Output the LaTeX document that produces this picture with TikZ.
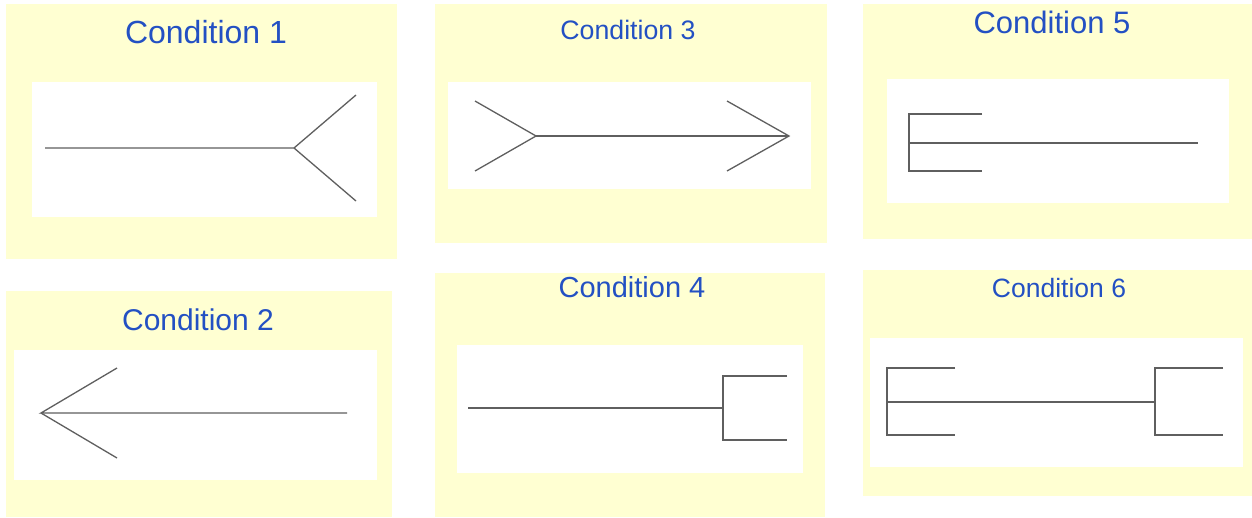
\documentclass[tikz,border=0pt]{standalone}
\usepackage{fontspec}
\setmainfont{Liberation Sans}
\definecolor{panelyellow}{RGB}{255,255,210}
\definecolor{titleblue}{RGB}{35,80,195}
\definecolor{linegray}{RGB}{95,95,95}
\tikzset{
  panel/.style={fill=panelyellow, draw=none},
  inner/.style={fill=white, draw=none},
  title/.style={text=titleblue, inner sep=0pt, anchor=center},
  glyph/.style={draw=linegray, line width=1.3pt, line cap=butt, line join=miter}
}
\newcommand{\tsize}[1]{\fontsize{#1}{#1}\selectfont}
\begin{document}
\begin{tikzpicture}[x=1pt,y=-1pt]
\useasboundingbox[fill=white] (0,0) rectangle (1252,517);
% ---------- Panel 1 ----------
\fill[panel] (6,4) rectangle (397,259);
\fill[inner] (32,82) rectangle (377,217);
\node[title,font=\tsize{32}] (t1) at (206,32) {Condition 1};
\coordinate (a1) at (45,148);
\coordinate (b1) at (294,148);
\coordinate (c1) at (356,95);
\coordinate (d1) at (356,201);
\draw[glyph] (a1) -- (b1) -- (c1);
\draw[glyph] (b1) -- (d1);
% ---------- Panel 2 ----------
\fill[panel] (6,291) rectangle (392,517);
\fill[inner] (14,350) rectangle (377,480);
\node[title,font=\tsize{30}] (t2) at (198,320) {Condition 2};
\coordinate (a2) at (41,413);
\coordinate (b2) at (347,413);
\coordinate (c2) at (117,368);
\coordinate (d2) at (117,458);
\draw[glyph] (b2) -- (a2) -- (c2);
\draw[glyph] (a2) -- (d2);
% ---------- Panel 3 ----------
\fill[panel] (435,4) rectangle (827,243);
\fill[inner] (448,82) rectangle (811,189);
\node[title,font=\tsize{26.7}] (t3) at (628,30) {Condition 3};
\coordinate (a3) at (536,136);
\coordinate (b3) at (475,101);
\coordinate (c3) at (475,171);
\coordinate (d3) at (789,136);
\coordinate (e3) at (727,101);
\coordinate (f3) at (727,171);
\draw[glyph] (b3) -- (a3) -- (c3);
\draw[glyph] (a3) -- (d3);
\draw[glyph] (e3) -- (d3) -- (f3);
% ---------- Panel 4 ----------
\fill[panel] (435,273) rectangle (825,517);
\fill[inner] (457,345) rectangle (803,473);
\node[title,font=\tsize{29}] (t4) at (632,287) {Condition 4};
\coordinate (a4) at (468,408);
\coordinate (b4) at (723,408);
\coordinate (c4) at (723,376);
\coordinate (d4) at (723,440);
\coordinate (e4) at (787,376);
\coordinate (f4) at (787,440);
\draw[glyph] (a4) -- (b4);
\draw[glyph] (e4) -- (c4) -- (d4) -- (f4);
% ---------- Panel 5 ----------
\fill[panel] (863,4) rectangle (1252,239);
\fill[inner] (887,79) rectangle (1229,203);
\node[title,font=\tsize{31}] (t5) at (1052,22) {Condition 5};
\coordinate (a5) at (909,114);
\coordinate (b5) at (909,171);
\coordinate (c5) at (982,114);
\coordinate (d5) at (982,171);
\coordinate (m5) at (909,143);
\coordinate (e5) at (1198,143);
\draw[glyph] (c5) -- (a5) -- (b5) -- (d5);
\draw[glyph] (m5) -- (e5);
% ---------- Panel 6 ----------
\fill[panel] (863,270) rectangle (1252,496);
\fill[inner] (870,338) rectangle (1243,467);
\node[title,font=\tsize{26.5}] (t6) at (1059,288) {Condition 6};
\coordinate (a6) at (887,368);
\coordinate (b6) at (887,435);
\coordinate (c6) at (955,368);
\coordinate (d6) at (955,435);
\coordinate (m6) at (887,402);
\coordinate (n6) at (1155,402);
\coordinate (e6) at (1155,368);
\coordinate (f6) at (1155,435);
\coordinate (g6) at (1223,368);
\coordinate (h6) at (1223,435);
\draw[glyph] (c6) -- (a6) -- (b6) -- (d6);
\draw[glyph] (m6) -- (n6);
\draw[glyph] (g6) -- (e6) -- (f6) -- (h6);
\end{tikzpicture}
\end{document}
